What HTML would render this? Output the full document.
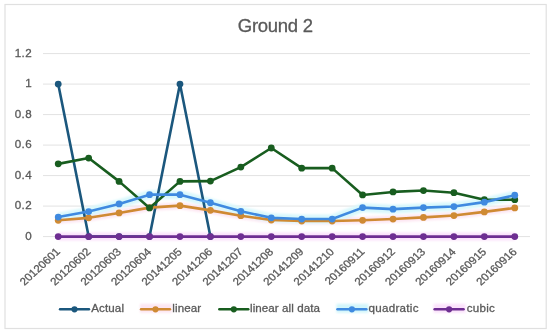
<!DOCTYPE html>
<html><head><meta charset="utf-8"><style>
html,body{margin:0;padding:0;background:#fff;}
body{width:550px;height:333px;overflow:hidden;}
svg{display:block;filter:blur(0.3px);}
text{font-family:"Liberation Sans", sans-serif;}
.b{stroke:#595959;stroke-width:0.3px;}
</style></head><body>
<svg width="550" height="333" viewBox="0 0 550 333">
<rect x="0" y="0" width="550" height="333" fill="#fff"/>
<rect x="5" y="4.5" width="541.2" height="324" fill="#fff" stroke="#e0e0e0" stroke-width="1.2"/>

<text x="238.8" y="31.9" class="b" font-size="18.5" fill="#595959" textLength="75.06" lengthAdjust="spacing" transform="translate(-0.93,0)">Ground 2</text>
<line x1="43.0" y1="236.60" x2="530.0" y2="236.60" stroke="#e2e2e2" stroke-width="1"/>
<line x1="43.0" y1="206.10" x2="530.0" y2="206.10" stroke="#e2e2e2" stroke-width="1"/>
<line x1="43.0" y1="175.60" x2="530.0" y2="175.60" stroke="#e2e2e2" stroke-width="1"/>
<line x1="43.0" y1="145.10" x2="530.0" y2="145.10" stroke="#e2e2e2" stroke-width="1"/>
<line x1="43.0" y1="114.60" x2="530.0" y2="114.60" stroke="#e2e2e2" stroke-width="1"/>
<line x1="43.0" y1="84.10" x2="530.0" y2="84.10" stroke="#e2e2e2" stroke-width="1"/>
<line x1="43.0" y1="53.60" x2="530.0" y2="53.60" stroke="#e2e2e2" stroke-width="1"/>
<text x="32.0" y="239.80" class="b" font-size="11.6" fill="#595959" text-anchor="end" letter-spacing="0.4">0</text>
<text x="32.0" y="209.30" class="b" font-size="11.6" fill="#595959" text-anchor="end" letter-spacing="0.4">0.2</text>
<text x="32.0" y="178.80" class="b" font-size="11.6" fill="#595959" text-anchor="end" letter-spacing="0.4">0.4</text>
<text x="32.0" y="148.30" class="b" font-size="11.6" fill="#595959" text-anchor="end" letter-spacing="0.4">0.6</text>
<text x="32.0" y="117.80" class="b" font-size="11.6" fill="#595959" text-anchor="end" letter-spacing="0.4">0.8</text>
<text x="32.0" y="87.30" class="b" font-size="11.6" fill="#595959" text-anchor="end" letter-spacing="0.4">1</text>
<text x="32.0" y="56.80" class="b" font-size="11.6" fill="#595959" text-anchor="end" letter-spacing="0.4">1.2</text>
<text transform="translate(60.92,252.40) scale(1,0.92) rotate(-45)" class="b" font-size="11.6" fill="#595959" text-anchor="end">20120601</text>
<text transform="translate(91.37,252.39) scale(1,0.92) rotate(-45)" class="b" font-size="11.6" fill="#595959" text-anchor="end">20120602</text>
<text transform="translate(121.75,252.44) scale(1,0.92) rotate(-45)" class="b" font-size="11.6" fill="#595959" text-anchor="end">20120603</text>
<text transform="translate(152.07,252.56) scale(1,0.92) rotate(-45)" class="b" font-size="11.6" fill="#595959" text-anchor="end">20120604</text>
<text transform="translate(182.61,252.46) scale(1,0.92) rotate(-45)" class="b" font-size="11.6" fill="#595959" text-anchor="end">20141205</text>
<text transform="translate(213.07,252.44) scale(1,0.92) rotate(-45)" class="b" font-size="11.6" fill="#595959" text-anchor="end">20141206</text>
<text transform="translate(243.56,252.39) scale(1,0.92) rotate(-45)" class="b" font-size="11.6" fill="#595959" text-anchor="end">20141207</text>
<text transform="translate(273.94,252.44) scale(1,0.92) rotate(-45)" class="b" font-size="11.6" fill="#595959" text-anchor="end">20141208</text>
<text transform="translate(304.41,252.41) scale(1,0.92) rotate(-45)" class="b" font-size="11.6" fill="#595959" text-anchor="end">20141209</text>
<text transform="translate(334.78,252.48) scale(1,0.92) rotate(-45)" class="b" font-size="11.6" fill="#595959" text-anchor="end">20141210</text>
<text transform="translate(365.29,252.40) scale(1,0.92) rotate(-45)" class="b" font-size="11.6" fill="#595959" text-anchor="end">20160911</text>
<text transform="translate(395.74,252.39) scale(1,0.92) rotate(-45)" class="b" font-size="11.6" fill="#595959" text-anchor="end">20160912</text>
<text transform="translate(426.13,252.44) scale(1,0.92) rotate(-45)" class="b" font-size="11.6" fill="#595959" text-anchor="end">20160913</text>
<text transform="translate(456.45,252.56) scale(1,0.92) rotate(-45)" class="b" font-size="11.6" fill="#595959" text-anchor="end">20160914</text>
<text transform="translate(486.99,252.46) scale(1,0.92) rotate(-45)" class="b" font-size="11.6" fill="#595959" text-anchor="end">20160915</text>
<text transform="translate(517.44,252.44) scale(1,0.92) rotate(-45)" class="b" font-size="11.6" fill="#595959" text-anchor="end">20160916</text>
<defs><filter id="gb" x="-5%" y="-50%" width="110%" height="200%"><feGaussianBlur stdDeviation="1.2"/></filter></defs>
<g filter="url(#gb)">
<polyline points="58.22,220.28 88.66,217.84 119.09,212.96 149.53,207.62 179.97,205.64 210.41,210.37 240.84,215.71 271.28,219.98 301.72,221.04 332.16,221.04 362.59,220.28 393.03,219.06 423.47,217.38 453.91,215.56 484.34,211.89 514.78,207.93" fill="none" stroke="#fde6f2" stroke-width="7" stroke-linejoin="round" stroke-linecap="butt"/>
<polyline points="58.22,217.08 88.66,211.59 119.09,203.97 149.53,194.66 179.97,194.66 210.41,202.75 240.84,211.28 271.28,217.84 301.72,219.06 332.16,219.06 362.59,207.62 393.03,209.15 423.47,207.62 453.91,206.56 484.34,202.13 514.78,195.27" fill="none" stroke="#d8f8fc" stroke-width="9" stroke-linejoin="round" stroke-linecap="butt"/>
<polyline points="58.22,236.60 88.66,236.60 119.09,236.60 149.53,236.60 179.97,236.60 210.41,236.60 240.84,236.60 271.28,236.60 301.72,236.60 332.16,236.60 362.59,236.60 393.03,236.60 423.47,236.60 453.91,236.60 484.34,236.60 514.78,236.60" fill="none" stroke="#fbe2fb" stroke-width="8" stroke-linejoin="round" stroke-linecap="butt"/>
</g>
<polyline points="58.22,84.10 88.66,236.60 119.09,236.60 149.53,236.60 179.97,84.10 210.41,236.60" fill="none" stroke="#1b577d" stroke-width="2.6" stroke-linejoin="round" stroke-linecap="round"/>
<circle cx="58.22" cy="84.10" r="3.4" fill="#1b577d"/>
<circle cx="88.66" cy="236.60" r="3.4" fill="#1b577d"/>
<circle cx="119.09" cy="236.60" r="3.4" fill="#1b577d"/>
<circle cx="149.53" cy="236.60" r="3.4" fill="#1b577d"/>
<circle cx="179.97" cy="84.10" r="3.4" fill="#1b577d"/>
<circle cx="210.41" cy="236.60" r="3.4" fill="#1b577d"/>
<polyline points="58.22,220.28 88.66,217.84 119.09,212.96 149.53,207.62 179.97,205.64 210.41,210.37 240.84,215.71 271.28,219.98 301.72,221.04 332.16,221.04 362.59,220.28 393.03,219.06 423.47,217.38 453.91,215.56 484.34,211.89 514.78,207.93" fill="none" stroke="#cf8a33" stroke-width="2.6" stroke-linejoin="round" stroke-linecap="round"/>
<circle cx="58.22" cy="220.28" r="3.4" fill="#cf8a33"/>
<circle cx="88.66" cy="217.84" r="3.4" fill="#cf8a33"/>
<circle cx="119.09" cy="212.96" r="3.4" fill="#cf8a33"/>
<circle cx="149.53" cy="207.62" r="3.4" fill="#cf8a33"/>
<circle cx="179.97" cy="205.64" r="3.4" fill="#cf8a33"/>
<circle cx="210.41" cy="210.37" r="3.4" fill="#cf8a33"/>
<circle cx="240.84" cy="215.71" r="3.4" fill="#cf8a33"/>
<circle cx="271.28" cy="219.98" r="3.4" fill="#cf8a33"/>
<circle cx="301.72" cy="221.04" r="3.4" fill="#cf8a33"/>
<circle cx="332.16" cy="221.04" r="3.4" fill="#cf8a33"/>
<circle cx="362.59" cy="220.28" r="3.4" fill="#cf8a33"/>
<circle cx="393.03" cy="219.06" r="3.4" fill="#cf8a33"/>
<circle cx="423.47" cy="217.38" r="3.4" fill="#cf8a33"/>
<circle cx="453.91" cy="215.56" r="3.4" fill="#cf8a33"/>
<circle cx="484.34" cy="211.89" r="3.4" fill="#cf8a33"/>
<circle cx="514.78" cy="207.93" r="3.4" fill="#cf8a33"/>
<polyline points="58.22,163.86 88.66,158.06 119.09,181.39 149.53,207.93 179.97,181.39 210.41,181.09 240.84,167.06 271.28,148.00 301.72,168.13 332.16,168.13 362.59,194.97 393.03,191.92 423.47,190.54 453.91,192.68 484.34,199.69 514.78,199.69" fill="none" stroke="#185d1f" stroke-width="2.6" stroke-linejoin="round" stroke-linecap="round"/>
<circle cx="58.22" cy="163.86" r="3.4" fill="#185d1f"/>
<circle cx="88.66" cy="158.06" r="3.4" fill="#185d1f"/>
<circle cx="119.09" cy="181.39" r="3.4" fill="#185d1f"/>
<circle cx="149.53" cy="207.93" r="3.4" fill="#185d1f"/>
<circle cx="179.97" cy="181.39" r="3.4" fill="#185d1f"/>
<circle cx="210.41" cy="181.09" r="3.4" fill="#185d1f"/>
<circle cx="240.84" cy="167.06" r="3.4" fill="#185d1f"/>
<circle cx="271.28" cy="148.00" r="3.4" fill="#185d1f"/>
<circle cx="301.72" cy="168.13" r="3.4" fill="#185d1f"/>
<circle cx="332.16" cy="168.13" r="3.4" fill="#185d1f"/>
<circle cx="362.59" cy="194.97" r="3.4" fill="#185d1f"/>
<circle cx="393.03" cy="191.92" r="3.4" fill="#185d1f"/>
<circle cx="423.47" cy="190.54" r="3.4" fill="#185d1f"/>
<circle cx="453.91" cy="192.68" r="3.4" fill="#185d1f"/>
<circle cx="484.34" cy="199.69" r="3.4" fill="#185d1f"/>
<circle cx="514.78" cy="199.69" r="3.4" fill="#185d1f"/>
<polyline points="58.22,217.08 88.66,211.59 119.09,203.97 149.53,194.66 179.97,194.66 210.41,202.75 240.84,211.28 271.28,217.84 301.72,219.06 332.16,219.06 362.59,207.62 393.03,209.15 423.47,207.62 453.91,206.56 484.34,202.13 514.78,195.27" fill="none" stroke="#3f8ae0" stroke-width="2.6" stroke-linejoin="round" stroke-linecap="round"/>
<circle cx="58.22" cy="217.08" r="3.4" fill="#3f8ae0"/>
<circle cx="88.66" cy="211.59" r="3.4" fill="#3f8ae0"/>
<circle cx="119.09" cy="203.97" r="3.4" fill="#3f8ae0"/>
<circle cx="149.53" cy="194.66" r="3.4" fill="#3f8ae0"/>
<circle cx="179.97" cy="194.66" r="3.4" fill="#3f8ae0"/>
<circle cx="210.41" cy="202.75" r="3.4" fill="#3f8ae0"/>
<circle cx="240.84" cy="211.28" r="3.4" fill="#3f8ae0"/>
<circle cx="271.28" cy="217.84" r="3.4" fill="#3f8ae0"/>
<circle cx="301.72" cy="219.06" r="3.4" fill="#3f8ae0"/>
<circle cx="332.16" cy="219.06" r="3.4" fill="#3f8ae0"/>
<circle cx="362.59" cy="207.62" r="3.4" fill="#3f8ae0"/>
<circle cx="393.03" cy="209.15" r="3.4" fill="#3f8ae0"/>
<circle cx="423.47" cy="207.62" r="3.4" fill="#3f8ae0"/>
<circle cx="453.91" cy="206.56" r="3.4" fill="#3f8ae0"/>
<circle cx="484.34" cy="202.13" r="3.4" fill="#3f8ae0"/>
<circle cx="514.78" cy="195.27" r="3.4" fill="#3f8ae0"/>
<polyline points="58.22,236.60 88.66,236.60 119.09,236.60 149.53,236.60 179.97,236.60 210.41,236.60 240.84,236.60 271.28,236.60 301.72,236.60 332.16,236.60 362.59,236.60 393.03,236.60 423.47,236.60 453.91,236.60 484.34,236.60 514.78,236.60" fill="none" stroke="#6e2e92" stroke-width="2.6" stroke-linejoin="round" stroke-linecap="round"/>
<circle cx="58.22" cy="236.60" r="3.4" fill="#6e2e92"/>
<circle cx="88.66" cy="236.60" r="3.4" fill="#6e2e92"/>
<circle cx="119.09" cy="236.60" r="3.4" fill="#6e2e92"/>
<circle cx="149.53" cy="236.60" r="3.4" fill="#6e2e92"/>
<circle cx="179.97" cy="236.60" r="3.4" fill="#6e2e92"/>
<circle cx="210.41" cy="236.60" r="3.4" fill="#6e2e92"/>
<circle cx="240.84" cy="236.60" r="3.4" fill="#6e2e92"/>
<circle cx="271.28" cy="236.60" r="3.4" fill="#6e2e92"/>
<circle cx="301.72" cy="236.60" r="3.4" fill="#6e2e92"/>
<circle cx="332.16" cy="236.60" r="3.4" fill="#6e2e92"/>
<circle cx="362.59" cy="236.60" r="3.4" fill="#6e2e92"/>
<circle cx="393.03" cy="236.60" r="3.4" fill="#6e2e92"/>
<circle cx="423.47" cy="236.60" r="3.4" fill="#6e2e92"/>
<circle cx="453.91" cy="236.60" r="3.4" fill="#6e2e92"/>
<circle cx="484.34" cy="236.60" r="3.4" fill="#6e2e92"/>
<circle cx="514.78" cy="236.60" r="3.4" fill="#6e2e92"/>
<line x1="60" y1="309.3" x2="89" y2="309.3" stroke="#1b577d" stroke-width="2.4" stroke-linecap="round"/>
<circle cx="74.5" cy="309.3" r="3.1" fill="#1b577d"/>
<text x="91.18" y="312.4" class="b" font-size="11.6" fill="#595959" textLength="32.80" lengthAdjust="spacing">Actual</text>
<rect x="140" y="303.8" width="32" height="9" fill="#fde6f2" filter="url(#gb)"/>
<line x1="141" y1="309.3" x2="170" y2="309.3" stroke="#cf8a33" stroke-width="2.4" stroke-linecap="round"/>
<circle cx="155.5" cy="309.3" r="3.1" fill="#cf8a33"/>
<text x="172.32" y="312.4" class="b" font-size="11.6" fill="#595959" textLength="28.77" lengthAdjust="spacing">linear</text>
<line x1="219.3" y1="309.3" x2="248.3" y2="309.3" stroke="#185d1f" stroke-width="2.4" stroke-linecap="round"/>
<circle cx="233.8" cy="309.3" r="3.1" fill="#185d1f"/>
<text x="250.02" y="312.4" class="b" font-size="11.6" fill="#595959" textLength="69.88" lengthAdjust="spacing">linear all data</text>
<rect x="336.4" y="303.8" width="32" height="9" fill="#d2f6fb" filter="url(#gb)"/>
<line x1="337.4" y1="309.3" x2="366.4" y2="309.3" stroke="#3f8ae0" stroke-width="2.4" stroke-linecap="round"/>
<circle cx="351.9" cy="309.3" r="3.1" fill="#3f8ae0"/>
<text x="368.51" y="312.4" class="b" font-size="11.6" fill="#595959" textLength="49.99" lengthAdjust="spacing">quadratic</text>
<rect x="433.6" y="303.8" width="32" height="9" fill="#fbe2fb" filter="url(#gb)"/>
<line x1="434.6" y1="309.3" x2="463.6" y2="309.3" stroke="#6e2e92" stroke-width="2.4" stroke-linecap="round"/>
<circle cx="449.1" cy="309.3" r="3.1" fill="#6e2e92"/>
<text x="466.81" y="312.4" class="b" font-size="11.6" fill="#595959" textLength="28.00" lengthAdjust="spacing">cubic</text>
</svg>
</body></html>
